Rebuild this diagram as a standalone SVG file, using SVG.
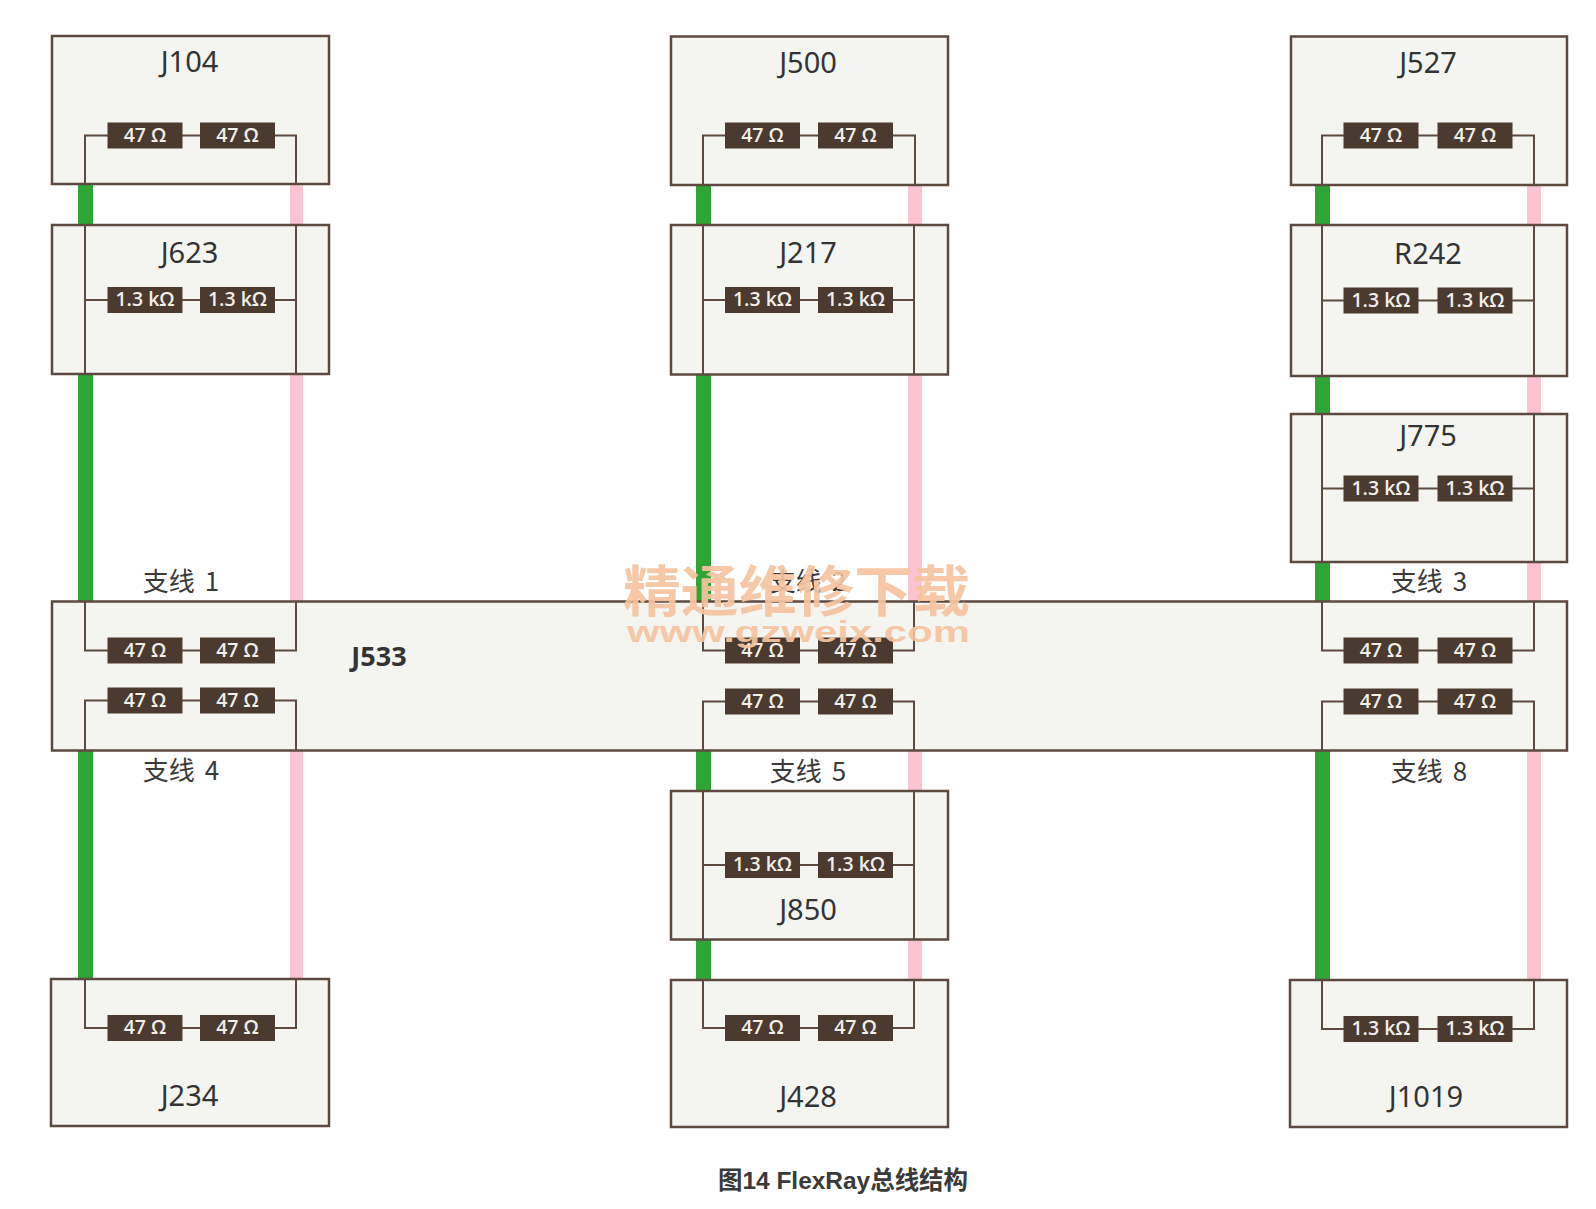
<svg xmlns="http://www.w3.org/2000/svg" width="1596" height="1209" viewBox="0 0 1596 1209">
<style>
.box{fill:#f4f5f1;stroke:#5c4a40;stroke-width:2.5}
.w{fill:none;stroke:#5c4a40;stroke-width:2}
.r{fill:#4a3a30}
.rt{fill:#f2efe8;font:600 19.500px "Open Sans","Noto Sans",sans-serif;text-anchor:middle}
.n{fill:#333;font:29px "Noto Sans","DejaVu Sans",sans-serif;text-anchor:middle}
.l{fill:#3a3a3a;font:26px "Noto Sans CJK SC","Noto Sans",sans-serif;text-anchor:middle;word-spacing:4px}
.g{fill:#2ea636}
.p{fill:#fcc4d2}
</style>
<defs>
<g id="r47"><rect class="r" x="-37.500" y="-13" width="75" height="26"/><text class="rt" y="6">47 Ω</text></g>
<g id="rk"><rect class="r" x="-37.500" y="-13" width="75" height="26"/><text class="rt" y="6">1.3 kΩ</text></g>
</defs>
<g id="connectors">
<rect class="g" x="78" y="183" width="15" height="42"/><rect class="g" x="78" y="372" width="15" height="230"/><rect class="g" x="78" y="750" width="15" height="230"/>
<rect class="p" x="290" y="183" width="13" height="42"/><rect class="p" x="290" y="372" width="13" height="230"/><rect class="p" x="290" y="750" width="13" height="230"/>
<rect class="g" x="696" y="184" width="15" height="42"/><rect class="g" x="696" y="373" width="15" height="229"/><rect class="g" x="696" y="750" width="15" height="42"/><rect class="g" x="696" y="938" width="15" height="42"/>
<rect class="p" x="908" y="184" width="14" height="42"/><rect class="p" x="908" y="373" width="14" height="229"/><rect class="p" x="908" y="750" width="14" height="42"/><rect class="p" x="908" y="938" width="14" height="42"/>
<rect class="g" x="1315" y="184" width="15" height="42"/><rect class="g" x="1315" y="375" width="15" height="40"/><rect class="g" x="1315" y="561" width="15" height="41"/><rect class="g" x="1315" y="750" width="15" height="230"/>
<rect class="p" x="1527" y="184" width="14" height="42"/><rect class="p" x="1527" y="375" width="14" height="40"/><rect class="p" x="1527" y="561" width="14" height="41"/><rect class="p" x="1527" y="750" width="14" height="230"/>
</g>
<g id="J104"><rect class="box" x="52" y="36" width="277" height="148"/><path class="w" d="M85 184V135.500H296V184"/><use href="#r47" x="145" y="135.500"/><use href="#r47" x="237.500" y="135.500"/><text class="n" x="189.500" y="72">J104</text></g>
<g id="J623"><rect class="box" x="52" y="225" width="277" height="149"/><path class="w" d="M85 225V374M296 225V374M85 300H296"/><use href="#rk" x="145" y="300"/><use href="#rk" x="237.500" y="300"/><text class="n" x="189.500" y="262.500">J623</text></g>
<g id="J500"><rect class="box" x="671" y="36.500" width="277" height="148.500"/><path class="w" d="M703 185V135.500H915V185"/><use href="#r47" x="762.500" y="135.500"/><use href="#r47" x="855.500" y="135.500"/><text class="n" x="808" y="73">J500</text></g>
<g id="J217"><rect class="box" x="671" y="225" width="277" height="149.500"/><path class="w" d="M703 225V374.500M914 225V374.500M703 300H914"/><use href="#rk" x="762.500" y="300"/><use href="#rk" x="855.500" y="300"/><text class="n" x="808" y="263">J217</text></g>
<g id="J527"><rect class="box" x="1291" y="36.500" width="276" height="148.500"/><path class="w" d="M1322 185V135.500H1534V185"/><use href="#r47" x="1381" y="135.500"/><use href="#r47" x="1475" y="135.500"/><text class="n" x="1428" y="73">J527</text></g>
<g id="R242"><rect class="box" x="1291" y="225" width="276" height="151"/><path class="w" d="M1322 225V376M1534 225V376M1322 300.500H1534"/><use href="#rk" x="1381" y="300.500"/><use href="#rk" x="1475" y="300.500"/><text class="n" x="1428" y="263.500">R242</text></g>
<g id="J775"><rect class="box" x="1291" y="414" width="276" height="148"/><path class="w" d="M1322 414V562M1534 414V562M1322 488.500H1534"/><use href="#rk" x="1381" y="488.500"/><use href="#rk" x="1475" y="488.500"/><text class="n" x="1428" y="446">J775</text></g>
<g id="J533"><rect class="box" x="52" y="601.500" width="1515" height="149"/>
<path class="w" d="M85 601.500V650.500H296V601.500M85 750.500V700.500H296V750.500M703 601.500V650.500H914V601.500M703 750.500V701.500H914V750.500M1322 601.500V650.500H1534V601.500M1322 750.500V701.500H1534V750.500"/>
<use href="#r47" x="145" y="650.500"/><use href="#r47" x="237.500" y="650.500"/><use href="#r47" x="145" y="700.500"/><use href="#r47" x="237.500" y="700.500"/>
<use href="#r47" x="762.500" y="650.500"/><use href="#r47" x="855.500" y="650.500"/><use href="#r47" x="762.500" y="701.500"/><use href="#r47" x="855.500" y="701.500"/>
<use href="#r47" x="1381" y="650.500"/><use href="#r47" x="1475" y="650.500"/><use href="#r47" x="1381" y="701.500"/><use href="#r47" x="1475" y="701.500"/>
<text class="n" x="379" y="666" style="font-weight:700;font-size:27px">J533</text></g>
<g id="J850"><rect class="box" x="671" y="791" width="277" height="148.500"/><path class="w" d="M703 791V939.500M914 791V939.500M703 865H914"/><use href="#rk" x="762.500" y="865"/><use href="#rk" x="855.500" y="865"/><text class="n" x="808" y="920">J850</text></g>
<g id="J234"><rect class="box" x="51" y="979" width="278" height="147"/><path class="w" d="M85 979V1028H296V979"/><use href="#r47" x="145" y="1028"/><use href="#r47" x="237.500" y="1028"/><text class="n" x="189.500" y="1106">J234</text></g>
<g id="J428"><rect class="box" x="671" y="980" width="277" height="147"/><path class="w" d="M703 980V1028H914V980"/><use href="#r47" x="762.500" y="1028"/><use href="#r47" x="855.500" y="1028"/><text class="n" x="808" y="1107">J428</text></g>
<g id="J1019"><rect class="box" x="1290" y="980" width="277" height="147"/><path class="w" d="M1322 980V1029H1534V980"/><use href="#rk" x="1381" y="1029"/><use href="#rk" x="1475" y="1029"/><text class="n" x="1426" y="1107">J1019</text></g>
<g id="labels">
<text class="l" x="181" y="590.500">支线 1</text><text class="l" x="808" y="591">支线 2</text><text class="l" x="1429" y="591">支线 3</text>
<text class="l" x="181" y="780">支线 4</text><text class="l" x="808" y="780.500">支线 5</text><text class="l" x="1429" y="780.500">支线 8</text>
</g>
<g id="watermark" fill="#f6c4a0" opacity="0.92">
<text x="623" y="611" font-family="'Noto Sans CJK SC','Liberation Serif',serif" font-weight="700" font-size="55" textLength="347" lengthAdjust="spacingAndGlyphs">精通维修下载</text>
<text x="627" y="642" font-family="'Liberation Sans',sans-serif" font-weight="700" font-size="30" textLength="343" lengthAdjust="spacingAndGlyphs">www.gzweix.com</text>
</g>
<text id="caption" x="718" y="1189" fill="#3a3a3a" font-family="'Liberation Sans','Noto Sans CJK SC',sans-serif" font-weight="700" font-size="24.500" textLength="250" lengthAdjust="spacingAndGlyphs">图14 FlexRay总线结构</text>
</svg>
